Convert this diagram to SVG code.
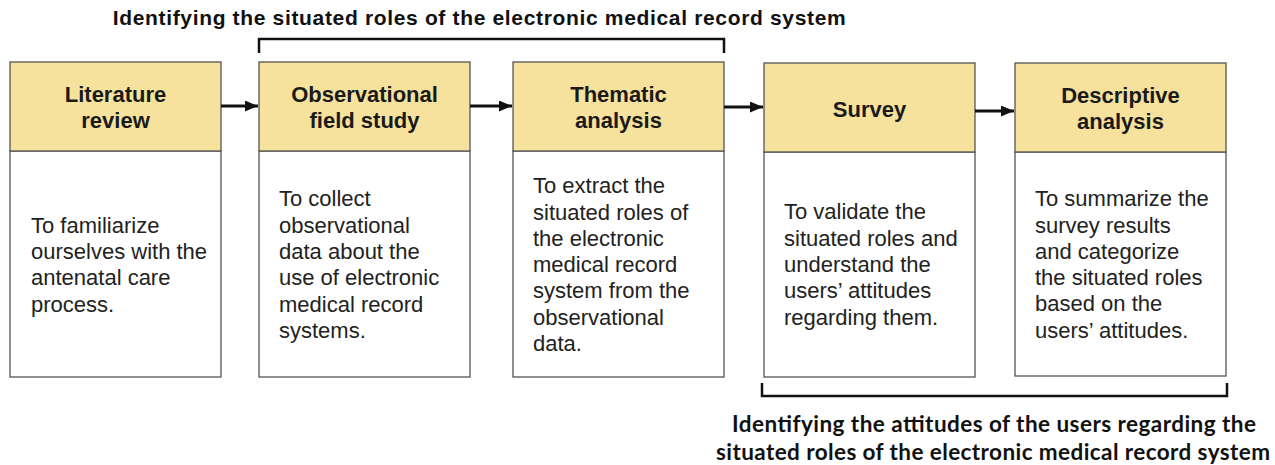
<svg xmlns="http://www.w3.org/2000/svg" width="1275" height="465" viewBox="0 0 1275 465">
<style>
.hd{fill:#F6E29C;stroke:#555;stroke-width:1.3}
.bd{fill:#fff;stroke:#555;stroke-width:1.3}
.ht{font-family:"Liberation Sans",Arial,sans-serif;font-weight:bold;font-size:22px;fill:#1a1a1a;text-anchor:middle}
.bt{font-family:"Liberation Sans",Arial,sans-serif;font-size:22px;fill:#222}
.top{font-family:"Liberation Sans",Arial,sans-serif;font-weight:bold;font-size:21px;fill:#111}
.bot{font-family:Lato,"Open Sans",sans-serif;font-weight:bold;font-size:22.5px;fill:#111}
.br{fill:none;stroke:#111;stroke-width:2.5}
.ar{stroke:#111;stroke-width:3;fill:none}
</style>
<defs>
<marker id="ah" markerWidth="13" markerHeight="11" refX="13" refY="5.5" orient="auto" markerUnits="userSpaceOnUse">
<path d="M0,0 L13,5.5 L0,11 Z" fill="#111"/>
</marker>
</defs>

<text class="top" x="112.7" y="25" textLength="733" lengthAdjust="spacing">Identifying the situated roles of the electronic medical record system</text>
<path class="br" d="M259,53 V39 H724 V53"/>

<g id="n1">
<rect class="bd" x="10" y="151" width="211" height="226"/>
<rect class="hd" x="10" y="62" width="211" height="89"/>
<text class="ht" x="115.5" y="102">Literature</text>
<text class="ht" x="115.5" y="128">review</text>
<text class="bt" x="31" y="232.7">To familiarize</text>
<text class="bt" x="31" y="259">ourselves with the</text>
<text class="bt" x="31" y="285.3">antenatal care</text>
<text class="bt" x="31" y="311.6">process.</text>
</g>

<g id="n2">
<rect class="bd" x="259" y="151" width="211" height="226"/>
<rect class="hd" x="259" y="62" width="211" height="89"/>
<text class="ht" x="364.5" y="102">Observational</text>
<text class="ht" x="364.5" y="128">field study</text>
<text class="bt" x="279" y="206.4">To collect</text>
<text class="bt" x="279" y="232.7">observational</text>
<text class="bt" x="279" y="259">data about the</text>
<text class="bt" x="279" y="285.3">use of electronic</text>
<text class="bt" x="279" y="311.6">medical record</text>
<text class="bt" x="279" y="337.9">systems.</text>
</g>

<g id="n3">
<rect class="bd" x="513" y="151" width="211" height="226"/>
<rect class="hd" x="513" y="62" width="211" height="89"/>
<text class="ht" x="618.5" y="102">Thematic</text>
<text class="ht" x="618.5" y="128">analysis</text>
<text class="bt" x="533" y="193.2">To extract the</text>
<text class="bt" x="533" y="219.5">situated roles of</text>
<text class="bt" x="533" y="245.8">the electronic</text>
<text class="bt" x="533" y="272.1">medical record</text>
<text class="bt" x="533" y="298.4">system from the</text>
<text class="bt" x="533" y="324.7">observational</text>
<text class="bt" x="533" y="351">data.</text>
</g>

<g id="n4">
<rect class="bd" x="764" y="152" width="211" height="225"/>
<rect class="hd" x="764" y="63" width="211" height="89"/>
<text class="ht" x="869.5" y="117">Survey</text>
<text class="bt" x="784" y="219.4">To validate the</text>
<text class="bt" x="784" y="245.7">situated roles and</text>
<text class="bt" x="784" y="272">understand the</text>
<text class="bt" x="784" y="298.3">users’ attitudes</text>
<text class="bt" x="784" y="324.6">regarding them.</text>
</g>

<g id="n5">
<rect class="bd" x="1015" y="152" width="211" height="224"/>
<rect class="hd" x="1015" y="63" width="211" height="89"/>
<text class="ht" x="1120.5" y="103">Descriptive</text>
<text class="ht" x="1120.5" y="129">analysis</text>
<text class="bt" x="1035" y="206.2">To summarize the</text>
<text class="bt" x="1035" y="232.5">survey results</text>
<text class="bt" x="1035" y="258.8">and categorize</text>
<text class="bt" x="1035" y="285.1">the situated roles</text>
<text class="bt" x="1035" y="311.4">based on the</text>
<text class="bt" x="1035" y="337.7">users’ attitudes.</text>
</g>

<g id="connectors">
<line class="ar" x1="221" y1="106" x2="258" y2="106" marker-end="url(#ah)"/>
<line class="ar" x1="470" y1="106" x2="512" y2="106" marker-end="url(#ah)"/>
<line class="ar" x1="724" y1="107" x2="763" y2="107" marker-end="url(#ah)"/>
<line class="ar" x1="975" y1="111" x2="1014" y2="111" marker-end="url(#ah)"/>
</g>

<path class="br" d="M762,383 V396 H1227 V383"/>
<text class="bot" x="732" y="432" textLength="524" lengthAdjust="spacing">Identifying the attitudes of the users regarding the</text>
<text class="bot" x="716" y="460" textLength="554" lengthAdjust="spacing">situated roles of the electronic medical record system</text>
</svg>
